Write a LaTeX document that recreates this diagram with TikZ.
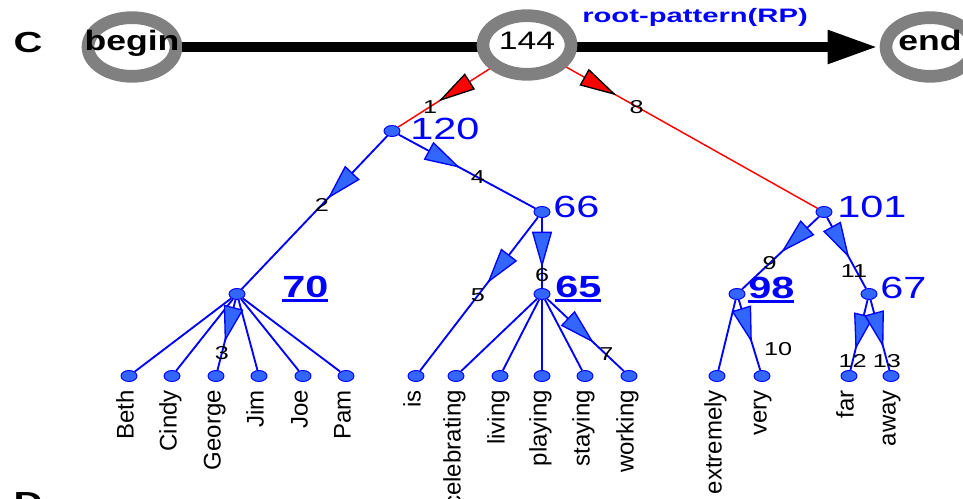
\documentclass[tikz,border=0pt]{standalone}
\usepackage{fontspec}
\setmainfont{Liberation Sans}
\usetikzlibrary{arrows.meta, decorations.markings, shapes.geometric}

\definecolor{ringgray}{RGB}{128,128,128}
\definecolor{nodeblue}{RGB}{51,102,255}

% stretched text and underlined counts
\newcommand\wide[2][1.35]{\scalebox{#1}[1]{#2}}
\newcommand\ulnum[1]{\vtop{\hbox{\bfseries #1}\kern1.5pt\hrule height 2.2pt}}
\newcommand\inring[2][1.27]{\makebox[0pt]{\wide[#1]{#2}}}

\tikzset{
    ring/.style={ellipse, draw=ringgray, line width=9.5pt, fill=white, minimum width=66pt, minimum height=44pt, inner sep=0pt, font=\bfseries\fontsize{21}{21}\selectfont, text height=0.73em, text depth=0.2em},
    wnode/.style={ellipse, draw=blue, fill=nodeblue, line width=0.7pt, minimum width=12pt, minimum height=8.25pt, inner sep=0pt},
    tedge/.style={draw=blue, line width=1.4pt},
    redge/.style={draw=red, line width=1.1pt},
    bluetip/.style={postaction={decorate}, decoration={markings, mark=at position #1 with {\arrow{Triangle[length=27pt, width=15pt, line width=1pt, color=blue, fill=nodeblue]}}}},
    redtip/.style={postaction={decorate}, decoration={markings, mark=at position #1 with {\arrow{Triangle[length=28pt, width=14pt, line width=1pt, color=black, fill=red]}}}},
    elbl/.style={font=\fontsize{14}{14}\selectfont, text=black, inner sep=0pt},
    num/.style={font=\fontsize{23}{23}\selectfont, text=blue, inner sep=0pt, anchor=base west},
    word/.style={font=\fontsize{18}{18}\selectfont, rotate=90, anchor=east, inner sep=0pt, text height=0.7em, text depth=0pt},
    panel/.style={font=\bfseries\fontsize{21.75}{21.75}\selectfont, inner sep=0pt}
}

\begin{document}
\begin{tikzpicture}[x=0.75pt, y=-0.75pt]
    \useasboundingbox (0,0) rectangle (963,499);

    \node[panel] (C) at (28,42.5) {\wide[1.38]{C}};
    \node[panel] (D) at (28,502.5) {\wide[1.38]{D}};

    % root pattern
    \node[ring] (pbegin) at (132,47) {\inring{begin}};
    \node[ring] (pend) at (930,47) {\inring{end}};
    \draw[line width=7.5pt, -{Triangle[length=36pt, width=26pt, line width=0pt]}, shorten >=3pt] (pbegin) -- (pend);
    \node[ring, font=\fontsize{19}{19}\selectfont, text depth=0pt] (p144) at (527,45) {\inring[1.33]{144}};
    \node[font=\bfseries\fontsize{14.6}{14.6}\selectfont, text=blue, inner sep=0pt] (rp) at (695,17) {\wide[1.5]{root-pattern(RP)}};

    % tree
    \node[wnode] (n120) at (392,131) {};
    \node[wnode] (n66)  at (542,212) {};
    \node[wnode] (n70)  at (237,294) {};
    \node[wnode] (n65)  at (542,294) {};
    \node[wnode] (n101) at (824,212) {};
    \node[wnode] (n98)  at (737,294) {};
    \node[wnode] (n67)  at (869,294) {};

    \node[num] (l120) at (410,140) {\wide{120}};
    \node[num] (l66)  at (553,217) {\wide{66}};
    \node[num] (l101) at (837,217) {\wide{101}};
    \node[num] (l67)  at (880,298) {\wide{67}};
    \node[num] (l70)  at (282,297) {\wide{\ulnum{70}}};
    \node[num] (l65)  at (555,297) {\wide{\ulnum{65}}};
    \node[num] (l98)  at (748,298) {\wide{\ulnum{98}}};

    \foreach \w/\x in {Beth/129, Cindy/172, George/216, Jim/259, Joe/303, Pam/346,
        is/416, celebrating/456, living/500, playing/542, staying/585, working/629,
        extremely/717, very/762, far/849, away/891}{
    \node[wnode] (\w) at (\x,376) {};
    \node[word] (t\w) at (\x,390) {\w};
    }

    \foreach \w in {Beth, Cindy, Jim, Joe, Pam}{
    \draw[tedge] (n70) -- (\w);
    }
    \foreach \w in {celebrating, living, playing, staying}{
    \draw[tedge] (n65) -- (\w);
    }
    \draw[tedge] (n98) -- (extremely);

    \draw[redge, redtip=0.56] (p144) -- node[elbl, pos=0.65] {\wide{1}} (n120);
    \draw[redge, redtip=0.2] (p144) -- node[elbl, pos=0.28] {\wide{8}} (n101);
    \draw[tedge, bluetip=0.41] (n120) -- node[elbl, pos=0.45] {\wide{2}} (n70);
    \draw[tedge, bluetip=0.6] (n70) -- node[elbl, pos=0.76] {\wide{3}} (George);
    \draw[tedge, bluetip=0.45] (n120) -- node[elbl, pos=0.58] {\wide{4}} (n66);
    \draw[tedge, bluetip=0.43] (n66) -- node[elbl, pos=0.51] {\wide{5}} (is);
    \draw[tedge, bluetip=0.71] (n66) -- node[elbl, pos=0.82] {\wide{6}} (n65);
    \draw[tedge, bluetip=0.61] (n65) -- node[elbl, pos=0.77] {\wide{7}} (working);
    \draw[tedge, bluetip=0.49] (n101) -- node[elbl, pos=0.64] {\wide{9}} (n98);
    \draw[tedge, bluetip=0.61] (n98) -- node[elbl, pos=0.7, right=7pt] {\wide{10}} (very);
    \draw[tedge, bluetip=0.57] (n101) -- node[elbl, pos=0.76, xshift=-2pt] {\wide{11}} (n67);
    \draw[tedge, bluetip=0.71] (n67) -- node[elbl, pos=0.87] {\wide{12}} (far);
    \draw[tedge, bluetip=0.68] (n67) -- node[elbl, pos=0.87] {\wide{13}} (away);
\end{tikzpicture}
\end{document}
